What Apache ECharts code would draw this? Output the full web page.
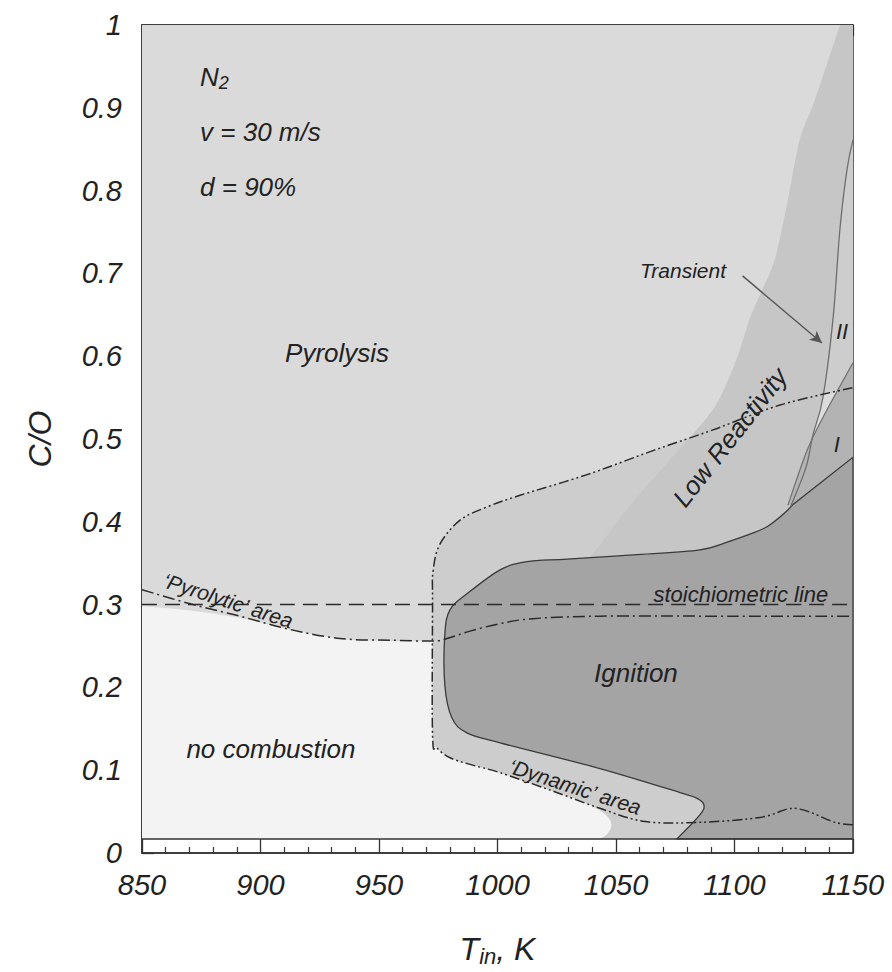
<!DOCTYPE html>
<html><head><meta charset="utf-8">
<script src="https://cdn.jsdelivr.net/npm/echarts@6/dist/echarts.min.js"></script>
<style>html,body{margin:0;padding:0;background:#fff}#c{width:892px;height:972px}</style>
</head><body><div id="c"></div>
<script>
// ---- axis ticks ----
const xTickValues = [850, 900, 950, 1000, 1050, 1100, 1150];
const yTickValues = [0, 0.1, 0.2, 0.3, 0.4, 0.5, 0.6, 0.7, 0.8, 0.9, 1];
const stripTop = 0.017;

// ---- regions (T_in [K], C/O) ----
const pyrolysisArea = [[850, 0.017], [1150, 0.017], [1150, 1], [850, 1]];
const reactiveArea = [[972.6, 0.017], [972.6, 0.300], [972.8, 0.340], [975.7, 0.373], [984.2, 0.402], [995.6, 0.418], [1009.5, 0.432], [1037.8, 0.457], [1065.6, 0.486], [1090.9, 0.511], [1119.2, 0.541], [1150, 0.562], [1150, 0.017]];
const noCombustionArea = [[850, 0.017], [850, 0.298], [870, 0.293], [891, 0.284], [912, 0.270], [933, 0.259], [955, 0.256], [972.6, 0.256], [972.6, 0.142], [974.5, 0.127], [980, 0.115], [988.4, 0.107], [1001.1, 0.097], [1022.2, 0.076], [1035, 0.063], [1043, 0.052], [1047, 0.042], [1048, 0.032], [1046, 0.022], [1043, 0.017]];
const highCOBand = [[1144.5, 1.0], [1134.0, 0.910], [1127.6, 0.862], [1122.6, 0.790], [1117.1, 0.718], [1112.0, 0.682], [1106.5, 0.646], [1101.1, 0.598], [1093.9, 0.550], [1088.4, 0.526], [1081.2, 0.502], [1072.8, 0.475], [1064.3, 0.448], [1053.8, 0.412], [1043.2, 0.372], [1038, 0.355], [1150, 0.355], [1150, 1.0]];
const regionII = [[1123.8, 0.419], [1130.2, 0.466], [1133.1, 0.505], [1137.3, 0.550], [1141.6, 0.646], [1144.5, 0.754], [1147.5, 0.826], [1150, 0.861], [1150, 0.592], [1137.3, 0.526], [1130.6, 0.486], [1122.5, 0.420]];
const regionIILow = [[1123.8, 0.419], [1130.2, 0.466], [1133.1, 0.505], [1137.4, 0.553], [1143.4, 0.558], [1137.3, 0.526], [1130.6, 0.486]];
const regionI = [[1122.5, 0.420], [1130.6, 0.486], [1137.3, 0.526], [1150, 0.592], [1150, 0.478], [1124.7, 0.421]];
const ignitionArea = [[1075.7, 0.017], [1085.4, 0.046], [1087.1, 0.058], [1084.2, 0.066], [1077.0, 0.073], [1043.2, 0.102], [1001.1, 0.133], [987.1, 0.145], [980.8, 0.163], [977.8, 0.202], [977.8, 0.265], [980.0, 0.294], [987.1, 0.313], [1001.1, 0.342], [1012.4, 0.352], [1029.3, 0.355], [1057.2, 0.360], [1085.4, 0.366], [1099.4, 0.378], [1106.5, 0.385], [1113.7, 0.394], [1120.5, 0.409], [1124.7, 0.421], [1150, 0.478], [1150, 0.017]];

// ---- boundary lines ----
const transientLine = [[1123.8, 0.419], [1130.2, 0.466], [1133.1, 0.505], [1137.3, 0.550], [1141.6, 0.646], [1144.5, 0.754], [1147.5, 0.826], [1150, 0.861]];
const regionILine = [[1122.5, 0.420], [1130.6, 0.486], [1137.3, 0.526], [1150, 0.592]];
const reactiveBoundary = [[1150, 0.034], [1142.4, 0.037], [1133.1, 0.048], [1127.6, 0.053], [1122.1, 0.053], [1110.8, 0.043], [1085.4, 0.037], [1062.2, 0.038], [1043.2, 0.054], [1022.2, 0.076], [1001.1, 0.097], [988.4, 0.107], [980, 0.115], [974.5, 0.127], [972.6, 0.142], [972.6, 0.300], [972.8, 0.340], [975.7, 0.373], [984.2, 0.402], [995.6, 0.418], [1009.5, 0.432], [1037.8, 0.457], [1065.6, 0.486], [1090.9, 0.511], [1119.2, 0.541], [1150, 0.562]];
const pyrolyticLine = [[850, 0.318], [870.3, 0.301], [891.3, 0.286], [912.4, 0.270], [933.5, 0.259], [954.6, 0.257], [972.4, 0.256], [978.7, 0.259], [988.4, 0.268], [1001.1, 0.277], [1015, 0.283], [1043.2, 0.286], [1099.4, 0.286], [1150, 0.286]];
const stoichiometricLine = [[850, 0.3], [1150, 0.3]];
const stripLine = [[850, stripTop], [1150, stripTop]];
const transientArrow = [[1103.4, 0.697], [1136.9, 0.616]];

// ---- annotations ----
const annotations = [
  { text: '{n|N}{s|2}', x: 874.5, y: 0.937, size: 26, align: 'left' },
  { text: 'v = 30 m/s', x: 874.5, y: 0.871, size: 26, align: 'left' },
  { text: 'd = 90%', x: 874.5, y: 0.804, size: 26, align: 'left' },
  { text: 'Pyrolysis', x: 932.3, y: 0.604, size: 26 },
  { text: 'no combustion', x: 904.4, y: 0.126, size: 26 },
  { text: 'Ignition', x: 1058.4, y: 0.217, size: 26 },
  { text: 'Transient', x: 1078.3, y: 0.703, size: 21 },
  { text: 'II', x: 1145.4, y: 0.630, size: 22 },
  { text: 'I', x: 1143.2, y: 0.493, size: 22 },
  { text: 'Low Reactivity', x: 1098.1, y: 0.502, size: 26, rotate: 52 },
  { text: 'stoichiometric line', x: 1102.7, y: 0.312, size: 22 },
  { text: '\u2018Pyrolytic\u2019 area', x: 886.3, y: 0.305, size: 21, rotate: -18 },
  { text: '\u2018Dynamic\u2019 area', x: 1032.7, y: 0.080, size: 21, rotate: -18 }
];

const FONT = '"Liberation Sans", Arial, sans-serif';
const X0 = xTickValues[0], X1 = xTickValues[xTickValues.length - 1];
const Y1 = yTickValues[yTickValues.length - 1];

// smooth (Catmull-Rom) path through pixel points; listed/border points stay sharp
function buildPath(data, px, extraSharp, closed) {
  const n = px.length;
  const sharp = new Set(extraSharp || []);
  data.forEach(function (p, i) {
    if (p[0] <= X0 || p[0] >= X1 || p[1] <= stripTop || p[1] >= Y1) sharp.add(i);
  });
  const get = function (i) { return closed ? px[(i + n) % n] : px[Math.max(0, Math.min(n - 1, i))]; };
  const t = 1 / 6;
  let d = 'M' + px[0][0].toFixed(2) + ' ' + px[0][1].toFixed(2);
  const segs = closed ? n : n - 1;
  for (let i = 0; i < segs; i++) {
    const p0 = get(i - 1), p1 = get(i), p2 = get(i + 1), p3 = get(i + 2);
    const i1 = closed ? (i % n) : i, i2 = closed ? ((i + 1) % n) : i + 1;
    const c1 = sharp.has(i1) ? p1 : [p1[0] + (p2[0] - p0[0]) * t, p1[1] + (p2[1] - p0[1]) * t];
    const c2 = sharp.has(i2) ? p2 : [p2[0] - (p3[0] - p1[0]) * t, p2[1] - (p3[1] - p1[1]) * t];
    d += ' C' + c1[0].toFixed(2) + ' ' + c1[1].toFixed(2) + ' ' + c2[0].toFixed(2) + ' ' + c2[1].toFixed(2) + ' ' + p2[0].toFixed(2) + ' ' + p2[1].toFixed(2);
  }
  if (closed) d += ' Z';
  return d;
}

function areaSeries(points, fill, z, sharpIdx, stroke) {
  return {
    type: 'custom', silent: true, z: z, clip: true, data: [0],
    renderItem: function (params, api) {
      const px = points.map(function (p) { return api.coord(p); });
      return {
        type: 'path', shape: { pathData: buildPath(points, px, sharpIdx, true) },
        style: { fill: fill, stroke: stroke || null, lineWidth: stroke ? 1.3 : 0 }
      };
    }
  };
}
function curveSeries(points, color, width, dash, z, sharpIdx) {
  return {
    type: 'custom', silent: true, z: z, clip: true, data: [0],
    renderItem: function (params, api) {
      const px = points.map(function (p) { return api.coord(p); });
      return {
        type: 'path', shape: { pathData: buildPath(points, px, sharpIdx || [], false) },
        style: { fill: null, stroke: color, lineWidth: width, lineDash: dash || null }
      };
    }
  };
}

const chart = echarts.init(document.getElementById('c'), null, { renderer: 'svg' });
const tickFmt = function (v) { return String(v); };
const option = {
  animation: false,
  backgroundColor: '#ffffff',
  grid: { left: 142, right: 39, top: 25, bottom: 114, show: true, borderColor: '#333', borderWidth: 1.5, backgroundColor: 'transparent' },
  xAxis: [{
    type: 'value', min: X0, max: X1, interval: xTickValues[1] - xTickValues[0],
    splitLine: { show: false },
    axisLine: { show: true, lineStyle: { color: '#333', width: 1.5 } },
    axisTick: { show: true, inside: true, length: 14, lineStyle: { color: '#333', width: 1.3 } },
    minorTick: { show: true, splitNumber: 5, length: 6, lineStyle: { color: '#333', width: 1.2 } },
    axisLabel: { fontFamily: FONT, fontStyle: 'italic', fontSize: 29, color: '#222', margin: 17, formatter: tickFmt },
    name: '{t|T}{s|in}{t|, K}', nameLocation: 'middle', nameGap: 78,
    nameTextStyle: { rich: { t: { fontFamily: FONT, fontStyle: 'italic', fontSize: 32, color: '#222' }, s: { fontFamily: FONT, fontStyle: 'italic', fontSize: 22, color: '#222', padding: [14, 0, 0, 0] } } }
  }, {
    type: 'value', position: 'top', min: X0, max: X1, interval: xTickValues[1] - xTickValues[0],
    splitLine: { show: false }, axisLabel: { show: false },
    axisLine: { show: true, lineStyle: { color: '#333', width: 1.5 } },
    axisTick: { show: true, inside: true, length: 11, lineStyle: { color: '#333', width: 1.3 } },
    minorTick: { show: true, splitNumber: 5, length: 6, lineStyle: { color: '#333', width: 1.2 } }
  }],
  yAxis: {
    type: 'value', min: yTickValues[0], max: Y1, interval: yTickValues[1] - yTickValues[0],
    splitLine: { show: false },
    axisLine: { show: true, lineStyle: { color: '#333', width: 1.5 } },
    axisTick: { show: true, inside: true, length: 12, lineStyle: { color: '#333', width: 1.3 } },
    minorTick: { show: true, splitNumber: 2, length: 6, lineStyle: { color: '#333', width: 1.2 } },
    axisLabel: { fontFamily: FONT, fontStyle: 'italic', fontSize: 29, color: '#222', margin: 20, formatter: tickFmt },
    name: 'C/O', nameLocation: 'middle', nameGap: 86, nameRotate: 90,
    nameTextStyle: { fontFamily: FONT, fontStyle: 'italic', fontSize: 32, color: '#222' }
  },
  series: [
    areaSeries(pyrolysisArea, '#dadada', 1),
    areaSeries(reactiveArea, '#cdcdcd', 2),
    areaSeries(noCombustionArea, '#f3f3f3', 3, [7]),
    areaSeries(highCOBand, '#c6c6c6', 4, [15]),
    areaSeries(regionII, '#cdcdcd', 5, [0, 11]),
    areaSeries(regionIILow, '#dcdcdc', 6, [0, 3, 4]),
    areaSeries(regionI, '#b3b3b3', 7, [0, 5]),
    areaSeries(ignitionArea, '#a4a4a4', 8, [22], '#3a3a3a'),
    curveSeries(transientLine, '#6e6e6e', 1.3, null, 10),
    curveSeries(regionILine, '#707070', 1.2, null, 10),
    curveSeries(reactiveBoundary, '#2a2a2a', 1.5, [10, 3, 2, 3, 2, 3], 11),
    curveSeries(pyrolyticLine, '#2a2a2a', 1.5, [12, 4, 2, 4], 11),
    curveSeries(stoichiometricLine, '#2a2a2a', 1.5, [15, 8], 11),
    curveSeries(stripLine, '#333', 1.5, null, 12),
    {
      type: 'line', data: [], silent: true, z: 12,
      markLine: {
        silent: true, symbol: ['none', 'arrow'], symbolSize: [9, 12], label: { show: false },
        lineStyle: { color: '#555', width: 1.4, type: 'solid' },
        data: [[{ coord: transientArrow[0] }, { coord: transientArrow[1] }]]
      }
    },
    {
      type: 'custom', silent: true, z: 20, clip: false, data: annotations.map(function (a, i) { return i; }),
      renderItem: function (params, api) {
        const a = annotations[params.dataIndex];
        const p = api.coord([a.x, a.y]);
        return {
          type: 'text', x: p[0], y: p[1], rotation: (a.rotate || 0) * Math.PI / 180,
          style: {
            text: a.text, fill: '#222', align: a.align || 'center', verticalAlign: 'middle',
            font: 'italic ' + a.size + 'px ' + FONT,
            rich: { n: { fontFamily: FONT, fontStyle: 'italic', fontSize: 26, fill: '#222' }, s: { fontFamily: FONT, fontStyle: 'italic', fontSize: 18, fill: '#222', padding: [12, 0, 0, 0] } }
          }
        };
      }
    }
  ]
};
chart.setOption(option);
</script></body></html>
